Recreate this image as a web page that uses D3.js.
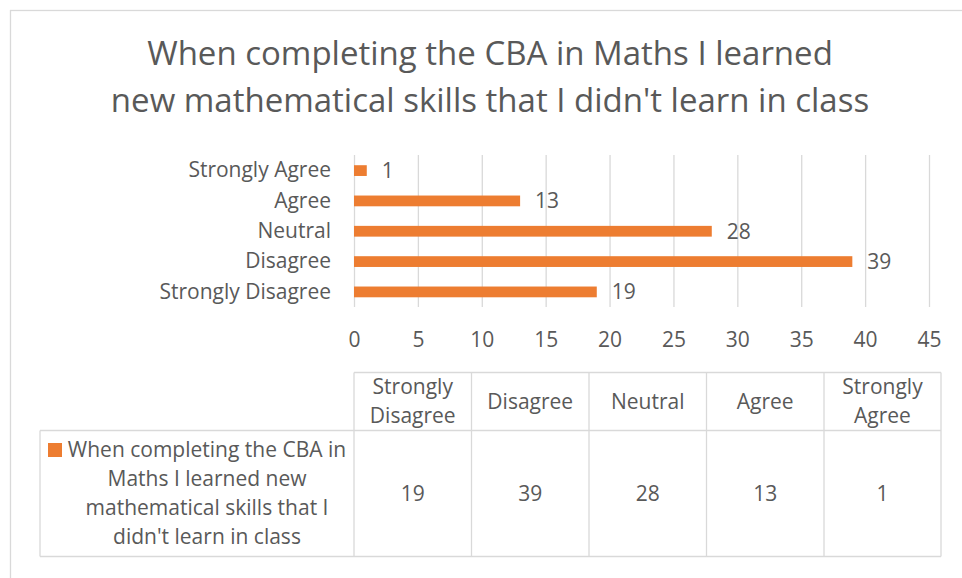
<!DOCTYPE html>
<html><head><meta charset="utf-8">
<script src="https://cdn.jsdelivr.net/npm/d3@7/dist/d3.min.js"></script>
<style>body{margin:0;background:#fff}svg{display:block}text{font-family:"Open Sans",sans-serif;fill:#595959}</style>
</head><body>
<script>
const titleLines = ["When completing the CBA in Maths I learned", "new mathematical skills that I didn't learn in class"];
const categories = ["Strongly Disagree", "Disagree", "Neutral", "Agree", "Strongly Agree"];
const values = [19, 39, 28, 13, 1];
const xTicks = [0, 5, 10, 15, 20, 25, 30, 35, 40, 45];
const seriesName = ["When completing the CBA in", "Maths I learned new", "mathematical skills that I", "didn't learn in class"];
const headerLines = [["Strongly", "Disagree"], ["Disagree"], ["Neutral"], ["Agree"], ["Strongly", "Agree"]];

const W = 962, H = 578, color = "#ED7D31", grid = "#D9D9D9", txt = "#595959";
const FS = "21px";
const svg = d3.select("body").append("svg").attr("width", W).attr("height", H);
svg.append("rect").attr("x", 10.5).attr("y", 10.5).attr("width", 980).attr("height", 600)
  .attr("fill", "#fff").attr("stroke", grid).attr("stroke-width", 1.3);

// title
svg.selectAll(".title").data(titleLines).join("text")
  .attr("x", 490).attr("y", (d, i) => 65 + i * 47)
  .attr("text-anchor", "middle").style("font-size", "33px").text(d => d);

// scales
const x = d3.scaleLinear().domain([0, 45]).range([354, 929]);
const order = categories.slice().reverse(); // top: Strongly Agree
const y = d3.scaleBand().domain(order).range([155.5, 307]).paddingInner(0.645).paddingOuter(0.32);

// gridlines
svg.append("g").selectAll("line").data(xTicks).join("line")
  .attr("x1", d => x(d) + 0.5).attr("x2", d => x(d) + 0.5)
  .attr("y1", 155).attr("y2", 307).attr("stroke", grid).attr("stroke-width", 1.3);

// axis labels
const ax = svg.append("g").attr("transform", "translate(0,340)")
  .call(d3.axisBottom(x).tickValues(xTicks).tickSize(0).tickPadding(0));
ax.select(".domain").remove();
ax.selectAll("text").attr("dy", "0.35em").style("font-size", FS).attr("fill", txt).style("font-family", '"Open Sans",sans-serif');

// category labels
const ay = svg.append("g").attr("transform", "translate(331,0)")
  .call(d3.axisLeft(y).tickSize(0).tickPadding(0));
ay.select(".domain").remove();
ay.selectAll("text").style("font-size", FS).attr("fill", txt).style("font-family", '"Open Sans",sans-serif');

// bars
svg.append("g").selectAll("rect").data(categories).join("rect")
  .attr("x", x(0)).attr("y", d => y(d))
  .attr("width", (d, i) => x(values[i]) - x(0)).attr("height", y.bandwidth())
  .attr("fill", color);

// data labels
svg.append("g").selectAll("text").data(categories).join("text")
  .attr("x", (d, i) => x(values[i]) + 15).attr("y", d => y(d) + y.bandwidth() / 2)
  .attr("dy", "0.35em").style("font-size", FS).text((d, i) => values[i]);

// data table
const colEdges = [354, 471.5, 589, 706.5, 824, 941];
const tTop = 372.5, tMid = 430.5, tBot = 556.5, tLeft = 40;
const tb = svg.append("g").attr("stroke", grid).attr("stroke-width", 1.3);
tb.append("line").attr("x1", colEdges[0]).attr("x2", colEdges[5]).attr("y1", tTop).attr("y2", tTop);
tb.append("line").attr("x1", tLeft).attr("x2", colEdges[5]).attr("y1", tMid).attr("y2", tMid);
tb.append("line").attr("x1", tLeft).attr("x2", colEdges[5]).attr("y1", tBot).attr("y2", tBot);
tb.append("line").attr("x1", tLeft).attr("x2", tLeft).attr("y1", tMid).attr("y2", tBot);
tb.selectAll(".v").data(colEdges).join("line")
  .attr("x1", d => d).attr("x2", d => d).attr("y1", tTop).attr("y2", tBot);

// header text
const colCenter = i => (colEdges[i] + colEdges[i + 1]) / 2;
categories.forEach((c, i) => {
  const lines = headerLines[i];
  lines.forEach((l, j) => {
    svg.append("text").attr("x", colCenter(i))
      .attr("y", (tTop + tMid) / 2 + (j - (lines.length - 1) / 2) * 29)
      .attr("dy", "0.35em").attr("text-anchor", "middle").style("font-size", FS).text(l);
  });
  svg.append("text").attr("x", colCenter(i)).attr("y", (tMid + tBot) / 2)
    .attr("dy", "0.35em").attr("text-anchor", "middle").style("font-size", FS).text(values[i]);
});

// legend key + series name
svg.append("rect").attr("x", 48).attr("y", 443).attr("width", 14).attr("height", 14).attr("fill", color);
seriesName.forEach((l, i) => {
  svg.append("text").attr("x", 207).attr("y", 450 + i * 29)
    .attr("dy", "0.35em").attr("text-anchor", "middle").style("font-size", FS).text(l);
});
</script>
</body></html>
